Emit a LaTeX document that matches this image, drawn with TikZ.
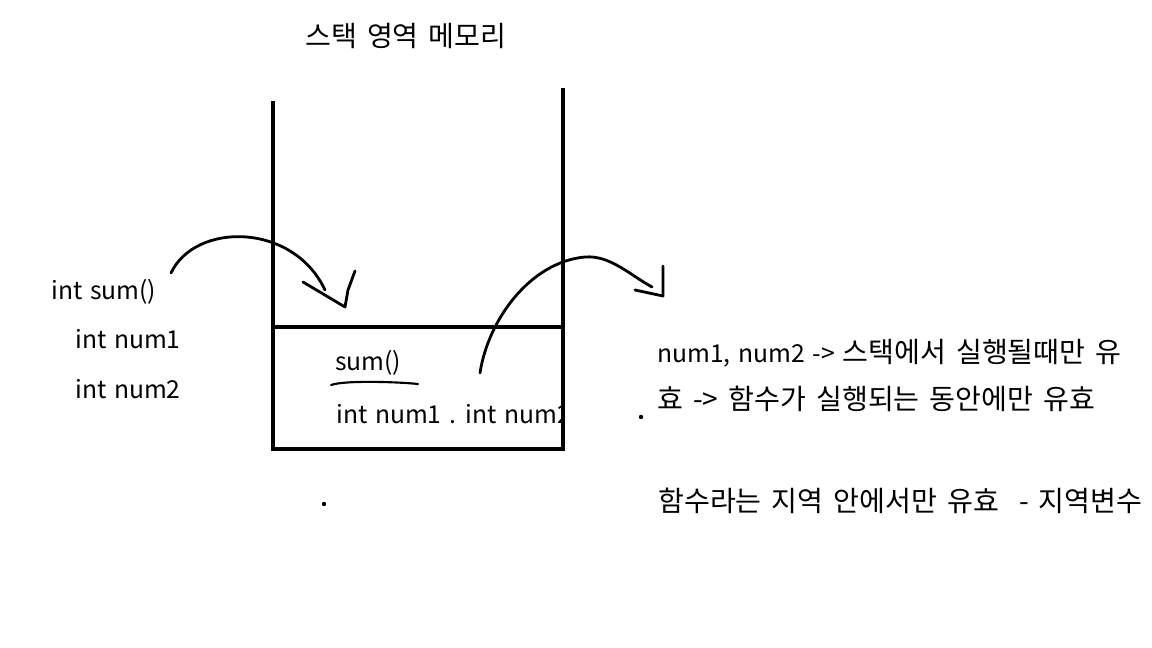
\documentclass[tikz,border=0pt]{standalone}
\usepackage{fontspec}
\setmainfont[WordSpace=1.4]{Noto Sans CJK KR}
\newfontfamily\kofont[Scale=1.14,WordSpace=1.6]{Noto Sans CJK KR}
\usetikzlibrary{positioning}

\begin{document}
\begin{tikzpicture}[x=0.75pt,y=-0.75pt,
  txt/.style={anchor=base west,inner sep=0pt,font=\fontsize{18.5}{22}\selectfont},
  wall/.style={line width=3.2pt,line cap=rect},
  pen/.style={line width=2.1pt,line cap=round,line join=round}]
\useasboundingbox (0,0) rectangle (1152,648);

% texts
\node[txt] (title) at (305,47) {\kofont 스택 영역 메모리};
\node[txt] (fn) at (51,300) {int sum()};
\node[txt] (p1) at (75,349) {int num1};
\node[txt] (p2) at (75,398) {int num2};
\node[txt] (frame) at (335,370) {sum()};
\begin{scope}
\clip (273,327) rectangle (562,449);
\node[txt] (vars) at (336,423) {int num1 . int num2};
\end{scope}
\node[txt] (n1) at (657,363) {num1, num2 -> {\kofont 스택에서 실행될때만 유}};
\node[txt] (n2) at (657,409) {\kofont 효 -> 함수가 실행되는 동안에만 유효};
\node[txt] (n3) at (658,511) {\kofont 함수라는 지역 안에서만 유효\ \ - 지역변수};

% stack
\draw[wall] (273,103) -- (273,449) -- (563,449) -- (563,90);
\draw[wall] (273,327) -- (563,327);

% push
\coordinate (pushA) at (171,273);
\coordinate (pushB) at (325,290);
\draw[pen] (pushA) .. controls (195,222) and (293,222) .. (pushB);
\draw[pen] (303,282) -- (345,307) -- (348,290) -- (355,271);

% pop
\coordinate (popA) at (480,373);
\coordinate (popM) at (585,257);
\coordinate (popB) at (652,287);
\draw[pen] (popA) .. controls (488,320) and (530,262) .. (popM)
  .. controls (610,255) and (630,275) .. (popB);
\draw[pen] (635,290) -- (663,296) -- (663,266);

\draw[line width=1.6pt,line cap=round] (331,385) .. controls (345,380) and (400,382) .. (418,384);
\fill (641,417) circle (2.2);
\fill (324,504) circle (2.2);
\end{tikzpicture}
\end{document}
